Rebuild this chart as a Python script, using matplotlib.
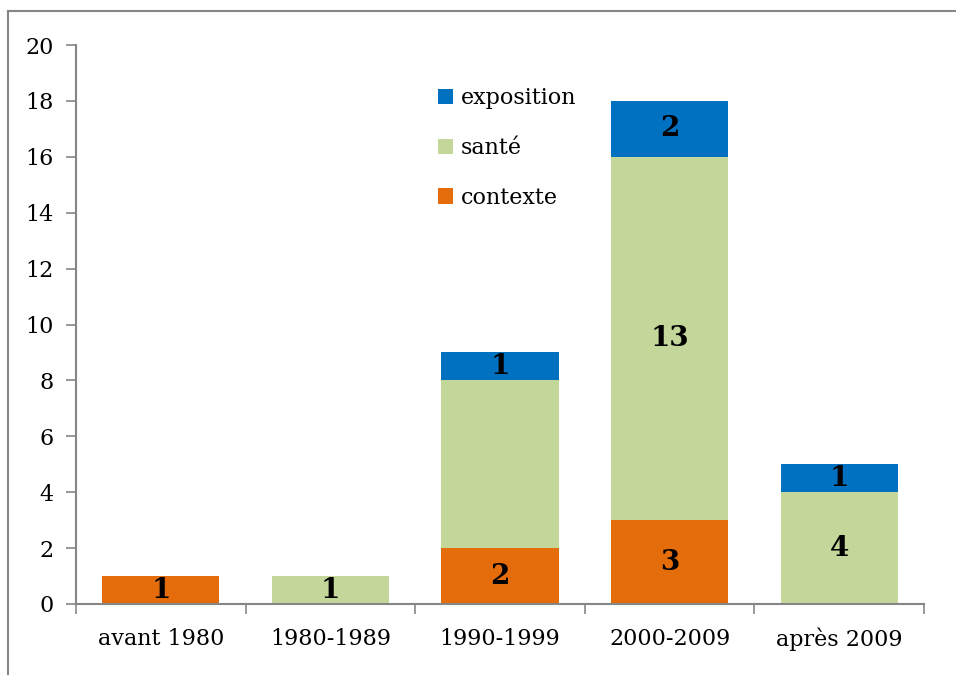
import matplotlib
matplotlib.use("Agg")
import matplotlib.pyplot as plt
from matplotlib.lines import Line2D
import numpy as np

categories = ["avant 1980", "1980-1989", "1990-1999", "2000-2009", "après 2009"]
contexte = [1, 0, 2, 3, 0]
sante = [0, 1, 6, 13, 4]
exposition = [0, 0, 1, 2, 1]
# which segment labels are shown (the reference omits the 1990-1999 santé label)
show_contexte = [True, False, True, True, False]
show_sante = [False, True, False, True, True]
show_exposition = [False, False, True, True, True]

colors = {"contexte": "#E46C0A", "santé": "#C4D79B", "exposition": "#0070C0"}
gray = "#868686"
font = "DejaVu Serif"

fig = plt.figure(figsize=(9.56, 6.75), dpi=100)
ax = fig.add_axes([76/956, 1-604/675, (924-76)/956, (604-45)/675])

x = np.arange(len(categories))
w = 0.69
b1 = ax.bar(x, contexte, w, color=colors["contexte"], label="contexte")
b2 = ax.bar(x, sante, w, bottom=contexte, color=colors["santé"], label="santé")
bottom3 = np.array(contexte) + np.array(sante)
b3 = ax.bar(x, exposition, w, bottom=bottom3, color=colors["exposition"], label="exposition")

def lab(vals, bottoms, show):
    for i, (v, b, s) in enumerate(zip(vals, bottoms, show)):
        if s and v > 0:
            ax.text(x[i], b + v/2, str(v), ha="center", va="center",
                    fontsize=20, fontweight="bold", family=font, color="black")

lab(contexte, [0]*5, show_contexte)
lab(sante, contexte, show_sante)
lab(exposition, bottom3, show_exposition)

ax.set_xlim(-0.5, len(categories) - 0.5)
ax.set_ylim(0, 20)
ax.set_yticks(range(0, 21, 2))
ax.set_xticks(x)
ax.set_xticklabels(categories, family=font, fontsize=16)
ax.set_xticks(np.arange(-0.5, len(categories)), minor=True)
for t in ax.get_yticklabels():
    t.set_family(font)
    t.set_fontsize(16)
ax.tick_params(axis="x", which="major", length=0, pad=17)
ax.tick_params(axis="x", which="minor", length=7, color=gray, width=1.2)
ax.tick_params(axis="y", length=7, color=gray, width=1.2, pad=9)
for s in ["top", "right"]:
    ax.spines[s].set_visible(False)
for s in ["left", "bottom"]:
    ax.spines[s].set_color(gray)
    ax.spines[s].set_linewidth(1.5)

handles = [b3, b2, b1]
leg = ax.legend(handles, ["exposition", "santé", "contexte"], loc="upper left",
                bbox_to_anchor=(0.403, 0.96), frameon=False,
                prop={"family": font, "size": 16}, handlelength=0.7, handleheight=0.7,
                labelspacing=1.25, handletextpad=0.35)

# outer frame (partially visible)
fig.add_artist(Line2D([8/956, 8/956], [0, 1-11/675], color=gray, lw=1.5, transform=fig.transFigure))
fig.add_artist(Line2D([8/956, 1], [1-11/675, 1-11/675], color=gray, lw=1.5, transform=fig.transFigure))

fig.savefig("out.png", dpi=100)
